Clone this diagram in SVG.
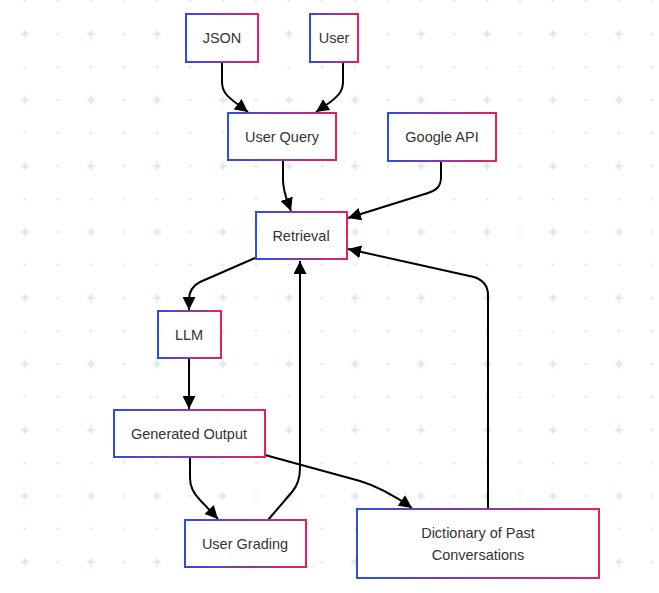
<svg xmlns="http://www.w3.org/2000/svg" width="659" height="593" viewBox="0 0 659 593">
<defs>
  <pattern id="grid" patternUnits="userSpaceOnUse" x="8.5" y="17.5" width="66" height="66">
    <path d="M12.5,16.5 h8 M16.5,12.5 v8" stroke="#d4e7ec" stroke-width="2"/>
    <circle cx="49.5" cy="16.5" r="1.3" fill="#dbe5e9"/>
    <circle cx="16.5" cy="49.5" r="1.3" fill="#dbe5e9"/>
    <circle cx="49.5" cy="49.5" r="1.3" fill="#dbe5e9"/>
  </pattern>
  <linearGradient id="border" x1="0" y1="0" x2="1" y2="0">
    <stop offset="0" stop-color="#2a4ee0"/>
    <stop offset="0.5" stop-color="#8a3aa8"/>
    <stop offset="1" stop-color="#e8205a"/>
  </linearGradient>
  <marker id="arrow" viewBox="0 0 10 10" refX="10" refY="5" markerWidth="13" markerHeight="13" markerUnits="userSpaceOnUse" orient="auto">
    <path d="M0,0 L10,5 L0,10 z" fill="#000"/>
  </marker>
</defs>
<style>
  .node rect { fill: #ffffff; stroke: url(#border); stroke-width: 2; }
  .node text { font-family: "Liberation Sans", Arial, sans-serif; font-size: 14.5px; fill: #333333; text-anchor: middle; dominant-baseline: central; }
  .edges path { fill: none; stroke: #000; stroke-width: 2; marker-end: url(#arrow); }
</style>
<rect width="659" height="593" fill="#ffffff"/>
<rect width="659" height="593" fill="url(#grid)"/>

<g class="edges" id="connectors">
  <path d="M222,62 L222,82 C222,92 228,97 236,103 L248,112"/>
  <path d="M343,62 L343,82 C343,92 337,97 329,103 L316,112"/>
  <path d="M283,160 L283,180 C283,192 287,200 291,211"/>
  <path d="M441,161 L441,177 C441,186 437,190 428,193 L348,218"/>
  <path d="M488,509 L488,295 C488,285 483,280 474,277 L348,249"/>
  <path d="M255,258 L200,282 C192,286 189,292 189,300 L189,310"/>
  <path d="M189,358 L189,409"/>
  <path d="M190,457 L190,478 C190,488 194,494 200,500 L218,519"/>
  <path d="M268,520 L292,492 C298,485 300,478 300,468 L300,261"/>
  <path d="M265,455 L360,481 C380,487 395,496 412,508"/>
</g>

<g class="node" id="json"><rect x="186" y="14" width="72" height="48"/><text x="222" y="38">JSON</text></g>
<g class="node" id="user"><rect x="310" y="14" width="48" height="48"/><text x="334" y="38">User</text></g>
<g class="node" id="userquery"><rect x="228" y="113" width="108" height="47"/><text x="282" y="137">User Query</text></g>
<g class="node" id="googleapi"><rect x="388" y="113" width="108" height="48"/><text x="442" y="137">Google API</text></g>
<g class="node" id="retrieval"><rect x="256" y="212" width="91" height="47"/><text x="301" y="236">Retrieval</text></g>
<g class="node" id="llm"><rect x="158" y="311" width="63" height="47"/><text x="189" y="335">LLM</text></g>
<g class="node" id="generated"><rect x="114" y="410" width="151" height="47"/><text x="189" y="434">Generated Output</text></g>
<g class="node" id="grading"><rect x="185" y="520" width="121" height="47"/><text x="245" y="544">User Grading</text></g>
<g class="node" id="dictionary"><rect x="357" y="509" width="242" height="69"/><text x="478" y="533">Dictionary of Past</text><text x="478" y="555">Conversations</text></g>
</svg>
